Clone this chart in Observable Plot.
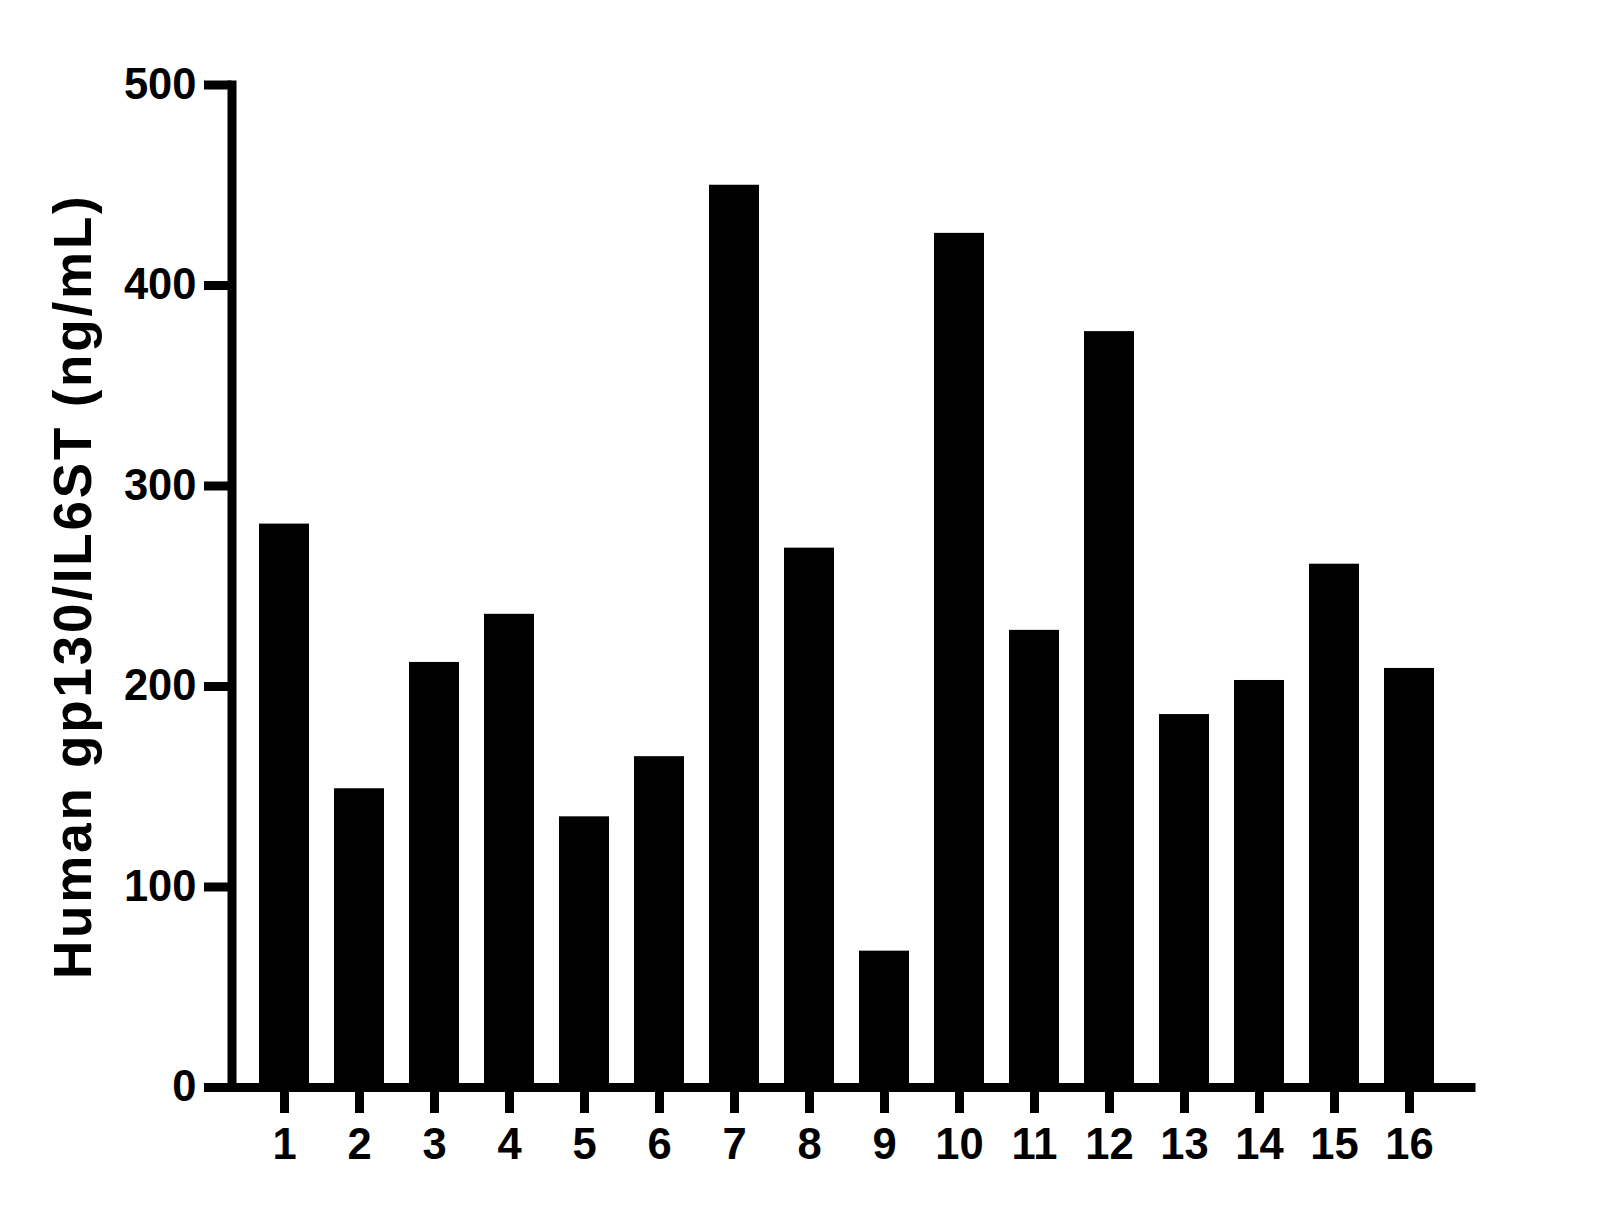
<!DOCTYPE html>
<html>
<head>
<meta charset="utf-8">
<script src="https://cdn.jsdelivr.net/npm/d3@7"></script>
<script src="https://cdn.jsdelivr.net/npm/@observablehq/plot@0.6"></script>
<style>
  html, body { margin: 0; padding: 0; background: #fff; }
  #chart g[aria-label="text"] text { letter-spacing: 2.8px; }
</style>
</head>
<body>
<div id="chart"></div>
<script>
const samples = ["1","2","3","4","5","6","7","8","9","10","11","12","13","14","15","16"];
const values = [281, 149, 212, 236, 135, 165, 450, 269, 68, 426, 228, 377, 186, 203, 261, 209];
const yTicks = [0, 100, 200, 300, 400, 500];
const yLabel = "Human gp130/IL6ST (ng/mL)";

const data = samples.map((s, i) => ({sample: s, value: values[i]}));

const plot = Plot.plot({
  width: 1609,
  height: 1208,
  marginTop: 84.5,
  marginBottom: 121,
  marginLeft: 231.5,
  marginRight: 138.5,
  style: {
    fontFamily: "'Liberation Sans', Arial, sans-serif",
    fontWeight: "bold",
    fontSize: "43px",
    color: "black",
    background: "white"
  },
  x: {type: "band", domain: samples, range: [255.7, 1438.3], paddingInner: 0.33, paddingOuter: 0, align: 0.5},
  y: {domain: [0, 500]},
  marks: [
    Plot.barY(data, {x: "sample", y: "value", fill: "black"}),
    Plot.axisY(yTicks, {tickSize: 27.5, tickPadding: 8, strokeWidth: 9, fontSize: 43.5, fontWeight: "bold", label: null}),
    Plot.axisX({tickSize: 26, tickPadding: 15, strokeWidth: 9, fontSize: 43.5, fontWeight: "bold", label: null}),
    Plot.frame({anchor: "left", stroke: "black", strokeWidth: 9, strokeLinecap: "square"}),
    Plot.frame({anchor: "bottom", stroke: "black", strokeWidth: 9, strokeLinecap: "square"}),
    Plot.text([yLabel], {frameAnchor: "left", textAnchor: "middle", lineAnchor: "middle", rotate: -90, dx: -157.5, dy: 0, fontSize: 53, fontWeight: "bold", text: d => d, fill: "black"})
  ]
});
document.getElementById("chart").appendChild(plot);
</script>
</body>
</html>
